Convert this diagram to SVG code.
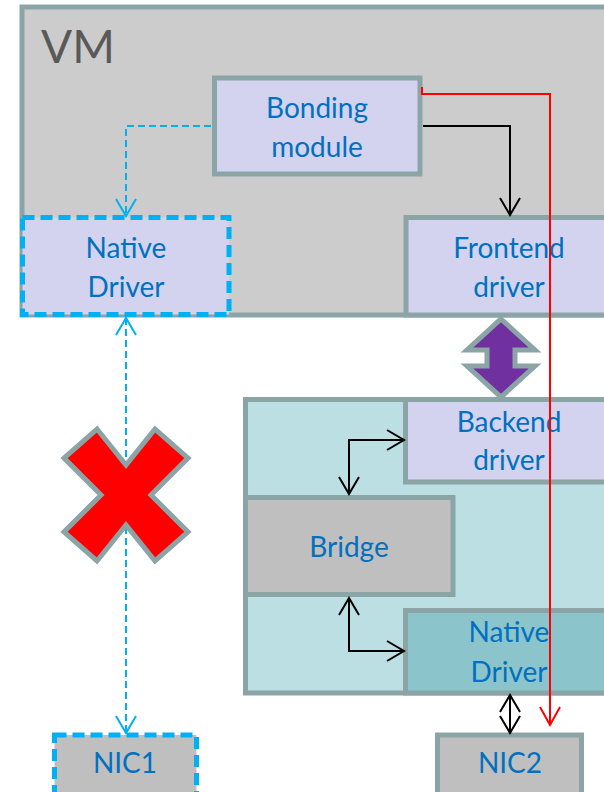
<svg xmlns="http://www.w3.org/2000/svg" width="604" height="792" viewBox="0 0 604 792">
  <defs>
    <style>
      .box { stroke: #8ba4a5; stroke-width: 5; }
      .lav { fill: #d3d3ef; }
      .gray { fill: #bfbfbf; }
      .dashbox { stroke: #00b0f0; stroke-width: 5; stroke-dasharray: 12 6; }
      .lbl { font-family: "Lato", "Liberation Sans", sans-serif; font-size: 28px; fill: #0070c0; text-anchor: middle; }
      .link { fill: none; stroke-width: 2; }
      .blk { stroke: #000; }
      .blu { stroke: #00b0f0; stroke-dasharray: 7 4; }
      .red { stroke: #ff0000; }
    </style>
    <marker id="arrBlack" markerUnits="userSpaceOnUse" markerWidth="24" markerHeight="24" viewBox="-20 -12 24 24" refX="0" refY="0" orient="auto-start-reverse">
      <path d="M-17,-10 L0,0 L-17,10" fill="none" stroke="#000" stroke-width="2"/>
    </marker>
    <marker id="arrBlue" markerUnits="userSpaceOnUse" markerWidth="24" markerHeight="24" viewBox="-20 -12 24 24" refX="0" refY="0" orient="auto-start-reverse">
      <path d="M-17,-10 L0,0 L-17,10" fill="none" stroke="#00b0f0" stroke-width="2"/>
    </marker>
    <marker id="arrRed" markerUnits="userSpaceOnUse" markerWidth="24" markerHeight="24" viewBox="-20 -12 24 24" refX="0" refY="0" orient="auto-start-reverse">
      <path d="M-18,-10 L0,0 L-18,10" fill="none" stroke="#ff0000" stroke-width="2"/>
    </marker>
  </defs>

  <rect width="604" height="792" fill="#ffffff"/>

  <!-- Guest VM container -->
  <g id="vm">
    <rect class="box" x="22" y="7" width="600" height="308" fill="#cccccc"/>
    <text x="41" y="63" font-family="Lato, 'Liberation Sans', sans-serif" font-size="46" fill="#595959">VM</text>
  </g>

  <g id="bonding">
    <rect class="box lav" x="214.5" y="78" width="205.5" height="96"/>
    <text class="lbl" x="317" y="118">Bonding</text>
    <text class="lbl" x="317" y="157">module</text>
  </g>

  <g id="frontend">
    <rect class="box lav" x="406" y="217.5" width="220" height="97.5"/>
    <text class="lbl" x="509" y="258">Frontend</text>
    <text class="lbl" x="509" y="297">driver</text>
  </g>

  <g id="vm-native-driver">
    <rect class="dashbox lav" x="22.5" y="217.5" width="206.5" height="97"/>
    <text class="lbl" x="126" y="258">Native</text>
    <text class="lbl" x="126" y="297">Driver</text>
  </g>

  <!-- Host side -->
  <g id="host">
    <rect class="box" x="245.5" y="399.5" width="380" height="293.5" fill="#bbdfe2"/>
  </g>

  <g id="backend">
    <rect class="box lav" x="405.5" y="399.5" width="220" height="82.5"/>
    <text class="lbl" x="509" y="432">Backend</text>
    <text class="lbl" x="509" y="470">driver</text>
  </g>

  <g id="bridge">
    <rect class="box gray" x="245.5" y="497.5" width="207.5" height="97"/>
    <text class="lbl" x="349" y="557">Bridge</text>
  </g>

  <g id="host-native-driver">
    <rect class="box" x="405.5" y="610.5" width="220" height="82.5" fill="#8cc4cc"/>
    <text class="lbl" x="509" y="642">Native</text>
    <text class="lbl" x="509" y="682">Driver</text>
  </g>

  <g id="nic1">
    <rect class="dashbox gray" x="54.5" y="735" width="142" height="60"/>
    <text class="lbl" x="125" y="773">NIC1</text>
  </g>

  <g id="nic2">
    <rect class="box gray" x="437.5" y="735" width="144" height="60"/>
    <text class="lbl" x="510" y="773">NIC2</text>
  </g>

  <!-- Connectors -->
  <g id="connectors">
    <path class="link blu" d="M211,126 H126 V216" marker-end="url(#arrBlue)"/>
    <path class="link blk" d="M423,126 H510 V215" marker-end="url(#arrBlack)"/>
    <path class="link blu" d="M126,318 V733" marker-start="url(#arrBlue)" marker-end="url(#arrBlue)"/>
    <path class="link blk" d="M404,440 H349 V494" marker-start="url(#arrBlack)" marker-end="url(#arrBlack)"/>
    <path class="link blk" d="M349,598 V651 H404" marker-start="url(#arrBlack)" marker-end="url(#arrBlack)"/>
    <path class="link blk" d="M510,695 V733" marker-start="url(#arrBlack)" marker-end="url(#arrBlack)"/>
    <!-- frontend/backend channel -->
    <polygon points="501,319 535,350 515,350 515,366 535,366 501,397 467,366 487,366 487,350 467,350" fill="#7030a0" stroke="#8ba4a5" stroke-width="5" stroke-linejoin="miter"/>
    <path class="link red" d="M422,87 V94 H550 V725" marker-end="url(#arrRed)"/>
  </g>

  <!-- blocked path mark -->
  <g id="cross">
    <polygon points="97,429 126,465 155,429 188,458 151,495 188,532 155,561 126,525 97,561 64,532 101,495 64,458" fill="#ff0000" stroke="#8ba4a5" stroke-width="5" stroke-linejoin="miter"/>
  </g>
</svg>
